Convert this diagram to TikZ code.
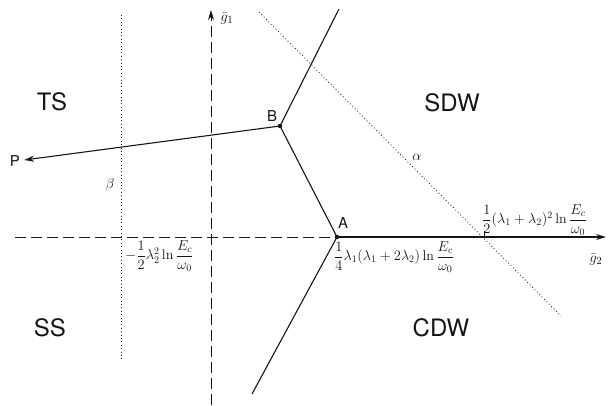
\documentclass[tikz,border=0pt]{standalone}
\usepackage{amsmath}
\usepackage{fontspec}
\setsansfont{TeX Gyre Heros}
\usetikzlibrary{arrows.meta,calc,positioning}
\definecolor{ink}{HTML}{151515}
\newcommand{\lnEw}{\ln\dfrac{E_c}{\omega_0}}

\begin{document}
\begin{tikzpicture}[x=1pt,y=-1pt,>=Stealth,font=\sffamily,
  phase/.style={font=\sffamily\fontsize{24}{28}\selectfont,text=ink,inner sep=0pt},
  lbl/.style={font=\fontsize{15}{17}\selectfont,text=ink,inner sep=1pt},
  frm/.style={font=\fontsize{14}{16}\selectfont,text=ink,inner sep=1pt},
  pt/.style={font=\sffamily\fontsize{15}{17}\selectfont,text=ink},
  bd/.style={ink,line width=1.1pt},
  ax/.style={ink,line width=.9pt,dash pattern=on 11pt off 5pt},
  guide/.style={ink,line width=.8pt,dash pattern=on .8pt off 2.6pt}]
\useasboundingbox (0,0) rectangle (613,405);

% ---------------- axes and guide lines
\coordinate (O)    at (211,237);
\coordinate (g2l)  at (15,237);
\coordinate (g2r)  at (606,237);
\coordinate (g1b)  at (211,405);
\coordinate (g1t)  at (211,10);
\coordinate (bt)   at (121,15);
\coordinate (bb)   at (121,359);
\coordinate (at)   at (259,12);
\coordinate (ab)   at (561,316);
\coordinate (X)    at (484,237);

\node[inner sep=0pt] (A) at (337,237) {};
\node[inner sep=0pt] (B) at (280,126) {};
\coordinate (Btop) at (339,9);
\coordinate (Abot) at (252,394);

\draw[ax] (g2l) -- (A);
\draw[bd,-{Stealth[length=10pt,width=6pt]}] (A) -- (g2r);
\draw[ax,-{Stealth[length=10pt,width=6pt]}] (g1b) -- (g1t);
\draw[guide] (bt) -- (bb);
\draw[guide] (at) -- (ab);
\draw[ink,line width=.8pt] (X) -- ++(0,-6);

% ---------------- phase boundaries
\node[pt,inner sep=0pt] (P) at (15,161) {P};
\draw[bd] (B) -- (Btop);
\draw[bd] (B) -- (A);
\draw[bd] (A) -- (Abot);
\draw[bd,-{Stealth[length=10pt,width=6pt]}] (B) -- ($(P.east)+(4,-1)$);
\fill[ink] (A) circle (2.2pt);
\fill[ink] (B) circle (2.2pt);

% ---------------- labels
\node[phase] (ts)  at (52,102)  {TS};
\node[phase] (sdw) at (452,103) {SDW};
\node[phase] (ss)  at (50,328)  {SS};
\node[phase] (cdw) at (441,328) {CDW};

\node[pt] (la) at (343,223) {A};
\node[pt] (lb) at (272,116) {B};
\node[lbl] (g1) at (227,19)  {$\bar g_1$};
\node[lbl] (g2) at (596,260) {$\bar g_2$};
\node[lbl] (al) at (417,157) {$\alpha$};
\node[lbl] (be) at (110,185) {$\beta$};

\node[frm,anchor=north west] (ka) at (333,240)
   {$\dfrac14\lambda_1(\lambda_1+2\lambda_2)\lnEw$};
\node[frm,anchor=south west] (kx) at (481,237)
   {$\dfrac12(\lambda_1+\lambda_2)^2\lnEw$};
\node[frm,anchor=north west] (kb) at (124,239)
   {$-\dfrac12\lambda_2^2\lnEw$};
\end{tikzpicture}
\end{document}
